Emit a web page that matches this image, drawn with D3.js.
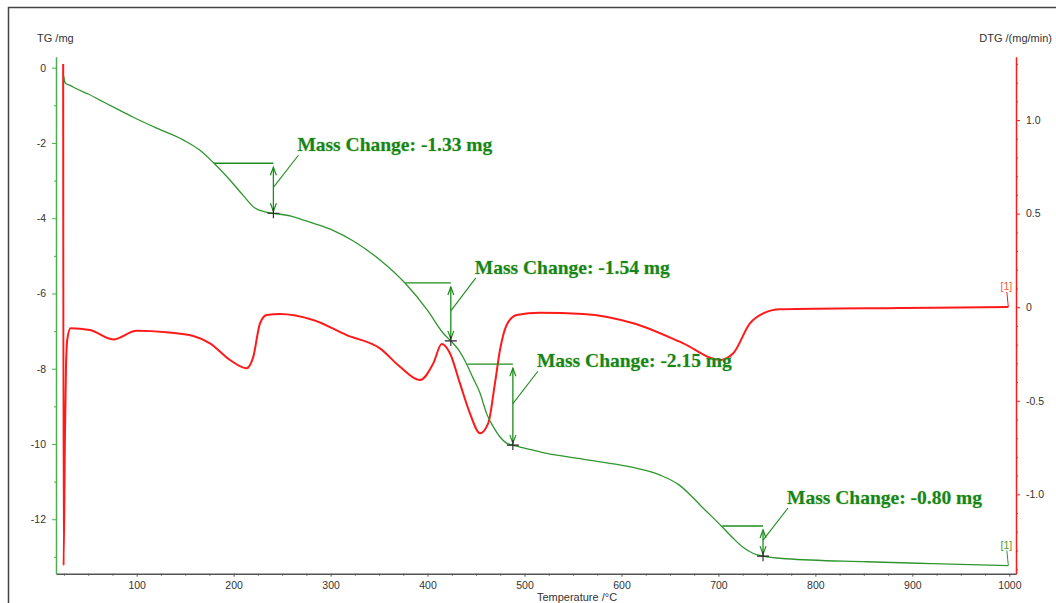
<!DOCTYPE html>
<html>
<head>
<meta charset="utf-8">
<script src="https://cdn.jsdelivr.net/npm/d3@7"></script>
<style>
  html, body { margin: 0; padding: 0; background: #fff; }
  svg { display: block; font-family: Arial, "Liberation Sans", sans-serif; }
</style>
</head>
<body>
<svg id="chart" width="1056" height="603"></svg>
<script>
// Thermogravimetric run: TG mass curve and its derivative (DTG)

// TG curve: temperature (°C) and mass change (mg)
const tgTemp = [24.8, 25.6, 27, 31.3, 38, 50, 62, 80, 96, 120, 148, 165, 179, 195, 210, 222, 232, 241,
  260, 273, 290, 303, 323, 351, 377, 400, 416, 424, 432, 440, 447, 454, 461, 468, 475, 481, 488,
  505, 523, 560, 590, 616, 640, 660, 672, 681, 703, 715, 725, 736, 746, 770, 853, 920, 999];
const tgMass = [-0.22, -0.36, -0.42, -0.47, -0.56, -0.70, -0.86, -1.10, -1.31, -1.60, -1.92, -2.19, -2.52, -2.95, -3.4, -3.73, -3.83, -3.87,
  -3.95, -4.06, -4.2, -4.33, -4.6, -5.11, -5.73, -6.45, -7.05, -7.26, -7.5, -7.86, -8.25, -8.64, -9.2, -9.55, -9.82, -9.97, -10.03,
  -10.14, -10.25, -10.4, -10.52, -10.65, -10.83, -11.1, -11.38, -11.62, -12.18, -12.5, -12.74, -12.91, -12.98, -13.05, -13.13, -13.18, -13.23];

// DTG curve: temperature (°C) and rate (mg/min)
const dtgTemp = [24.2, 24.6, 26.0, 27.1, 28.5, 31.9, 51.8, 75.9, 100, 130.9, 158.4, 175.6, 196.2, 213.4, 220.3, 227.2, 234.1,
  247.8, 282.1, 316.6, 350.9, 371.6, 392.2, 405.9, 414.6, 423.1, 433.4, 443.7, 454.1, 462.6, 469.5, 474.7, 481.6, 491.9,
  515.9, 560.6, 612.2, 663.7, 701.6, 715.3, 732.5, 746.2, 763.5, 887.3, 999];
const dtgRate = [1.30, -1.38, -0.70, -0.32, -0.17, -0.113, -0.122, -0.172, -0.126, -0.134, -0.154, -0.193, -0.282, -0.326, -0.264, -0.086, -0.042,
  -0.036, -0.068, -0.149, -0.220, -0.318, -0.389, -0.300, -0.197, -0.246, -0.407, -0.567, -0.674, -0.620, -0.407, -0.229, -0.095, -0.042,
  -0.029, -0.036, -0.086, -0.193, -0.282, -0.246, -0.086, -0.033, -0.011, -0.004, 0.001];

// Mass-change steps evaluated on the TG curve
const stepStartTemp = [180, 377, 441, 704];
const stepMarkTemp = [241, 424, 488, 746];
const stepMarkMass = [-3.87, -7.26, -10.03, -12.98];
const stepChange = [-1.33, -1.54, -2.15, -0.80];

// Axis ticks
const tempTicks = [100, 200, 300, 400, 500, 600, 700, 800, 900, 1000];
const tempTickLabels = ["100", "200", "300", "400", "500", "600", "700", "800", "900", "1000"];
const tempMinor = d3.range(25, 1001, 25).filter(v => v % 100 !== 0);
const tgTicks = [0, -2, -4, -6, -8, -10, -12];
const tgTickLabels = ["0", "-2", "-4", "-6", "-8", "-10", "-12"];
const tgMinor = [-1, -3, -5, -7, -9, -11, -13];
const dtgTicks = [1.0, 0.5, 0, -0.5, -1.0];
const dtgTickLabels = ["1.0", "0.5", "0", "-0.5", "-1.0"];
const dtgMinor = d3.range(-14, 14).map(v => v / 10).filter(v => Math.round(v * 10) % 5 !== 0);

const svg = d3.select("#chart");

const plot = { left: 56, right: 1016, top: 56.7, bottom: 573.7 };

const x = d3.scaleLinear().domain([16.8, 1006.9]).range([plot.left, plot.right]);
const yTG = d3.scaleLinear().domain([-13.447, 0.292]).range([plot.bottom, plot.top]);
const yDTG = d3.scaleLinear().domain([-1.424, 1.3385]).range([plot.bottom, plot.top]);

const GREEN_LINE = "#2f962f";
const GREEN_ANN = "#1c8c1c";
const GREEN_TEXT = "#16841a";
const RED = "#ff1a1a";
const TEXT = "#333";

// outer frame
svg.append("rect")
  .attr("x", 8.5).attr("y", 7.5).attr("width", 1060).attr("height", 620)
  .attr("fill", "none").attr("stroke", "#444").attr("stroke-width", 1.5);

// ---- axes ----
function styleAxis(g, color, width) {
  g.select(".domain").attr("stroke", color).attr("stroke-width", width);
  g.selectAll(".tick line").attr("stroke", color);
  g.selectAll(".tick text").attr("fill", TEXT).attr("font-size", 10.5)
    .attr("font-family", "Arial, 'Liberation Sans', sans-serif");
}

// bottom (temperature)
const gx = svg.append("g").attr("transform", `translate(0,${plot.bottom})`)
  .call(d3.axisBottom(x).tickValues(tempTicks).tickSize(3).tickSizeOuter(0).tickPadding(5)
    .tickFormat((d, i) => tempTickLabels[i]));
styleAxis(gx, "#555", 1.5);
svg.append("g").attr("transform", `translate(0,${plot.bottom})`)
  .call(d3.axisBottom(x).tickValues(tempMinor).tickSize(2).tickFormat(""))
  .call(g => { g.select(".domain").remove(); g.selectAll("line").attr("stroke", "#555"); });

// left (TG)
const gl = svg.append("g").attr("transform", `translate(${plot.left},0)`)
  .call(d3.axisLeft(yTG).tickValues(tgTicks).tickSize(4).tickSizeOuter(0).tickPadding(6)
    .tickFormat((d, i) => tgTickLabels[i]));
styleAxis(gl, "#4cae4c", 1.5);
svg.append("g").attr("transform", `translate(${plot.left},0)`)
  .call(d3.axisLeft(yTG).tickValues(tgMinor).tickSize(2).tickFormat(""))
  .call(g => { g.select(".domain").remove(); g.selectAll("line").attr("stroke", "#4cae4c"); });

// right (DTG)
const gr = svg.append("g").attr("transform", `translate(${plot.right},0)`)
  .call(d3.axisRight(yDTG).tickValues(dtgTicks).tickSize(4).tickSizeOuter(0).tickPadding(6)
    .tickFormat((d, i) => dtgTickLabels[i]));
styleAxis(gr, RED, 1.5);
svg.append("g").attr("transform", `translate(${plot.right},0)`)
  .call(d3.axisRight(yDTG).tickValues(dtgMinor).tickSize(2).tickFormat(""))
  .call(g => { g.select(".domain").remove(); g.selectAll("line").attr("stroke", RED); });

// axis titles
svg.append("text").attr("x", 37).attr("y", 42).attr("font-size", 11).attr("fill", TEXT).text("TG /mg");
svg.append("text").attr("x", 1052).attr("y", 42).attr("font-size", 11).attr("fill", TEXT)
  .attr("text-anchor", "end").text("DTG /(mg/min)");
svg.append("text").attr("x", 577).attr("y", 601).attr("font-size", 11).attr("fill", TEXT)
  .attr("text-anchor", "middle").text("Temperature /°C");

// ---- curves ----
const tgData = tgTemp.map((t, i) => [t, tgMass[i]]);
const dtgData = dtgTemp.map((t, i) => [t, dtgRate[i]]);

svg.append("path")
  .attr("d", d3.line().x(d => x(d[0])).y(d => yDTG(d[1])).curve(d3.curveMonotoneX)(dtgData))
  .attr("fill", "none").attr("stroke", RED).attr("stroke-width", 2);

svg.append("path")
  .attr("d", d3.line().x(d => x(d[0])).y(d => yTG(d[1])).curve(d3.curveMonotoneX)(tgData))
  .attr("fill", "none").attr("stroke", GREEN_LINE).attr("stroke-width", 1.3);

// curve end tags
const dtgEnd = dtgData[dtgData.length - 1];
const tgEnd = tgData[tgData.length - 1];
svg.append("line")
  .attr("x1", x(dtgEnd[0])).attr("y1", yDTG(dtgEnd[1]))
  .attr("x2", x(dtgEnd[0]) - 1.5).attr("y2", yDTG(dtgEnd[1]) - 15)
  .attr("stroke", RED).attr("stroke-width", 1);
svg.append("text").attr("x", x(dtgEnd[0]) - 2).attr("y", yDTG(dtgEnd[1]) - 17)
  .attr("text-anchor", "middle").attr("font-size", 10.5).attr("fill", "#f05a3c").text("[1]");
svg.append("line")
  .attr("x1", x(tgEnd[0])).attr("y1", yTG(tgEnd[1]))
  .attr("x2", x(tgEnd[0]) - 1.5).attr("y2", yTG(tgEnd[1]) - 15)
  .attr("stroke", GREEN_LINE).attr("stroke-width", 1);
svg.append("text").attr("x", x(tgEnd[0]) - 2).attr("y", yTG(tgEnd[1]) - 17)
  .attr("text-anchor", "middle").attr("font-size", 10.5).attr("fill", "#4a9a2a").text("[1]");

// ---- mass-change steps ----
const labelDy = [-12, -9, 3, -22];
const ann = svg.append("g");
stepMarkTemp.forEach((t, i) => {
  const mx = x(t);
  const baseMass = stepMarkMass[i] - stepChange[i];
  const yBase = yTG(baseMass);
  const yMark = yTG(stepMarkMass[i]);

  // baseline from curve to the marker
  ann.append("line").attr("x1", x(stepStartTemp[i])).attr("x2", mx)
    .attr("y1", yBase).attr("y2", yBase)
    .attr("stroke", GREEN_ANN).attr("stroke-width", 1.3);

  // double-headed arrow spanning the change
  const top = yBase + 4, bot = yMark - 2;
  ann.append("line").attr("x1", mx).attr("x2", mx).attr("y1", top).attr("y2", bot)
    .attr("stroke", GREEN_ANN).attr("stroke-width", 1.3);
  const head = (tipY, dir) => `M${mx - 3},${tipY + dir * 8}L${mx},${tipY}L${mx + 3},${tipY + dir * 8}`;
  ann.append("path").attr("d", head(top, 1)).attr("fill", "none").attr("stroke", GREEN_ANN).attr("stroke-width", 1.2);
  ann.append("path").attr("d", head(bot, -1)).attr("fill", "none").attr("stroke", GREEN_ANN).attr("stroke-width", 1.2);

  // marker cross on the curve
  ann.append("path").attr("d", `M${mx - 6},${yMark}H${mx + 6}M${mx},${yMark - 5}V${yMark + 5}`)
    .attr("stroke", "#222").attr("stroke-width", 1.1);

  // leader and label
  const lx = mx + 24, ly = yBase + labelDy[i];
  ann.append("line").attr("x1", mx).attr("y1", (top + bot) / 2 - 2)
    .attr("x2", lx + 1).attr("y2", ly + 4)
    .attr("stroke", GREEN_ANN).attr("stroke-width", 1.1);
  ann.append("text").attr("x", lx).attr("y", ly)
    .attr("font-family", "'Liberation Serif', 'Times New Roman', serif")
    .attr("font-weight", "bold").attr("font-size", 19.5)
    .attr("fill", GREEN_TEXT)
    .attr("stroke", "rgba(140,200,90,0.35)").attr("stroke-width", 1.2).attr("paint-order", "stroke")
    .text(`Mass Change: ${stepChange[i].toFixed(2)} mg`);
});
</script>
</body>
</html>
